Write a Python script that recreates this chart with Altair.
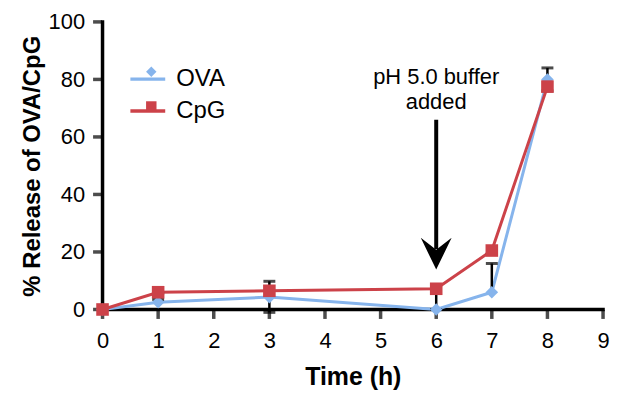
import altair as alt
import pandas as pd

# ---- data ----
times = [0, 1, 3, 6, 7, 8]
ova = [0, 2.5, 4.3, 0, 6, 80]
cpg = [0, 6, 6.5, 7.2, 20.5, 77.5]
ova_err = [0, 1, 5.5, 0, 10, 4]      # drawn upward
cpg_err = [0, 0.5, 7.5, 7.2, 1, 1.5]  # drawn downward
series_names = ["OVA", "CpG"]
series_colors = ["#86b4ec", "#cc4249"]
series_shapes = ["diamond", "square"]

x_ticks = [0, 1, 2, 3, 4, 5, 6, 7, 8, 9]
y_ticks = [0, 20, 40, 60, 80, 100]

annot_text = ["pH 5.0 buffer", "added"]
annot_x = [6, 6]
annot_y = [81, 72]
arrow_x = [6]
arrow_top = [66]
arrow_bottom = [21]
arrow_tip = [19.4]

FONT = "Liberation Sans"

rows = []
for t, v, e in zip(times, ova, ova_err):
    rows.append({"t": t, "v": v, "series": "OVA", "lo": v, "hi": v + e, "cap": v + e, "err": e})
for t, v, e in zip(times, cpg, cpg_err):
    rows.append({"t": t, "v": v, "series": "CpG", "lo": v - e, "hi": v, "cap": v - e, "err": e})
df = pd.DataFrame(rows)
df_err = df[df["err"] > 0]

xs = alt.Scale(domain=[x_ticks[0], x_ticks[-1]], nice=False)
ys = alt.Scale(domain=[y_ticks[0], y_ticks[-1]], nice=False)

axis_style = dict(grid=False, domain=False, ticks=False, labelFlush=False,
                  labelFontSize=22, labelFont=FONT, labelColor="black",
                  titleFont=FONT, titleFontWeight="bold", titleColor="black")

xaxis = alt.Axis(values=x_ticks, format="d", title="Time (h)",
                 labelPadding=21, titleFontSize=25, titlePadding=13, **axis_style)
yaxis = alt.Axis(values=y_ticks, format="d", title="% Release of OVA/CpG",
                 labelPadding=18, titleFontSize=24, titlePadding=4, **axis_style)


def X(field):
    return alt.X(field, type="quantitative", scale=xs, axis=xaxis)


def Y(field):
    return alt.Y(field, type="quantitative", scale=ys, axis=yaxis)


# axis lines and tick marks, drawn as marks so they are thick and black
dom_df = pd.DataFrame({"x0": [x_ticks[0]], "x1": [x_ticks[-1]], "y0": [y_ticks[0]], "y1": [y_ticks[-1]]})
xdom = alt.Chart(dom_df).mark_rule(color="black", strokeWidth=3.5, strokeCap="square").encode(
    x=X("x0"), x2="x1:Q", y=Y("y0"))
ydom = alt.Chart(dom_df).mark_rule(color="black", strokeWidth=3.5, strokeCap="square").encode(
    x=X("x0"), y=Y("y0"), y2="y1:Q")
xt_df = pd.DataFrame({"x": x_ticks, "y": [y_ticks[0]] * len(x_ticks)})
yt_df = pd.DataFrame({"y": y_ticks, "x": [x_ticks[0]] * len(y_ticks)})
xtk = alt.Chart(xt_df).mark_tick(color="black", orient="vertical", size=9, thickness=3.5, yOffset=5).encode(
    x=X("x"), y=Y("y"))
ytk = alt.Chart(yt_df).mark_tick(color="black", orient="horizontal", size=9, thickness=3.5, xOffset=-5).encode(
    x=X("x"), y=Y("y"))

base = alt.Chart(df)

lines = base.mark_line(strokeWidth=3).encode(
    x=X("t"), y=Y("v"),
    color=alt.Color("series:N", scale=alt.Scale(domain=series_names, range=series_colors),
                    legend=alt.Legend(orient="none", legendX=26, legendY=38, title=None,
                                      symbolType="stroke", symbolSize=1225, symbolStrokeWidth=3.5,
                                      labelFontSize=24, labelFont=FONT, labelColor="black",
                                      rowPadding=0, labelOffset=9)),
    order=alt.Order("t:Q"),
)

errs = alt.Chart(df_err).mark_rule(color="black", strokeWidth=2.5).encode(
    x=X("t"), y=Y("lo"), y2="hi:Q")
caps = alt.Chart(df_err).mark_tick(color="black", orient="horizontal", size=12, thickness=3).encode(
    x=X("t"), y=Y("cap"))

shape_legend = alt.Legend(orient="none", legendX=37, legendY=38, title=None,
                          symbolSize=110, labelFontSize=24, labelFont=FONT,
                          labelExpr="''", symbolStrokeWidth=0, rowPadding=11)
points = base.mark_point(filled=True, size=160, opacity=1, strokeWidth=0).encode(
    x=X("t"), y=Y("v"),
    fill=alt.Fill("series:N", scale=alt.Scale(domain=series_names, range=series_colors),
                  legend=shape_legend),
    shape=alt.Shape("series:N", scale=alt.Scale(domain=series_names, range=series_shapes),
                    legend=shape_legend),
)

ann_df = pd.DataFrame({"x": annot_x, "y": annot_y, "text": annot_text})
ann = alt.Chart(ann_df).mark_text(fontSize=22, font=FONT, color="black").encode(
    x=X("x"), y=Y("y"), text="text:N")

arrow_df = pd.DataFrame({"x": arrow_x, "top": arrow_top, "bottom": arrow_bottom, "tip": arrow_tip})
arrow_line = alt.Chart(arrow_df).mark_rule(color="black", strokeWidth=4).encode(
    x=X("x"), y=Y("top"), y2="bottom:Q")
arrow_head = alt.Chart(arrow_df).mark_point(
    filled=True, color="black", opacity=1, size=961, strokeWidth=0,
    shape="M-1,-1.03 L0,-0.26 L1,-1.03 L0,1.03 Z").encode(x=X("x"), y=Y("tip"))

chart = alt.layer(xdom, ydom, xtk, ytk, lines, errs, caps, points, ann, arrow_line, arrow_head).resolve_legend(
    color="independent", fill="independent", shape="independent"
).properties(
    width=503, height=289,
    autosize=alt.AutoSizeParams(type="none"),
    padding={"left": 95, "top": 13, "right": 10, "bottom": 92},
    background="white",
).configure_view(stroke=None)

chart.save("out.html", embed_options={"renderer": "svg", "actions": False})
